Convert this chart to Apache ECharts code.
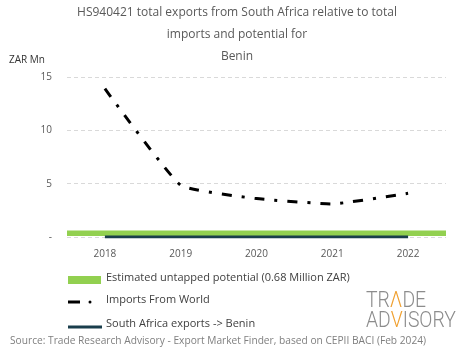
<!DOCTYPE html>
<html><head><meta charset="utf-8">
<script src="https://cdn.jsdelivr.net/npm/echarts@6/dist/echarts.min.js"></script>
<style>html,body{margin:0;padding:0;background:#fff}#c{width:465px;height:359px}</style>
</head><body><div id="c"></div>
<script>
const categories = ['2018', '2019', '2020', '2021', '2022'];
const importsFromWorld = [13.9, 4.85, 3.6, 3.1, 4.1];
const southAfricaExports = [0, 0, 0, 0, 0];
const potentialBand = [0.1, 0.6];
const yTicks = [0, 5, 10, 15];
const legendNames = ['Estimated untapped potential (0.68 Million ZAR)', 'Imports From World', 'South Africa exports -> Benin'];
const FONT = '"Open Sans"';
const GREEN = '#92d050', DARK = '#1a3e4c';
const chart = echarts.init(document.getElementById('c'));
chart.setOption({
  animation: false,
  textStyle: { fontFamily: FONT },
  title: {
    text: 'HS940421 total exports from South Africa relative to total\nimports and potential for\nBenin',
    left: 232, textAlign: 'center', top: -3,
    textStyle: { fontSize: 12, fontWeight: 'normal', color: '#595959', lineHeight: 22, fontFamily: FONT }
  },
  grid: { left: 67, right: 19, top: 77, bottom: 122 },
  xAxis: {
    type: 'category', data: categories, boundaryGap: true,
    axisLine: { show: false }, axisTick: { show: false },
    axisLabel: { color: '#595959', fontSize: 10, margin: 12 }
  },
  yAxis: {
    type: 'value', min: 0, max: 15, interval: 5,
    name: 'ZAR Mn', nameLocation: 'end', nameGap: 12,
    nameTextStyle: { color: '#333', fontSize: 10, align: 'left', padding: [0, 0, 0, -58] },
    axisLine: { show: false }, axisTick: { show: false },
    axisLabel: { color: '#595959', fontSize: 10, margin: 15,
      formatter: v => yTicks.includes(v) ? (v === 0 ? '-' : String(v)) : '' },
    splitLine: { lineStyle: { color: '#d9d9d9', type: [4, 3] } }
  },
  series: [
    {
      name: legendNames[0], type: 'line', data: [], z: 5,
      markArea: { silent: true, itemStyle: { color: GREEN, opacity: 1 },
        data: [[{ yAxis: potentialBand[0], x: 67 }, { yAxis: potentialBand[1], x: 446 }]] }
    },
    {
      name: legendNames[2], type: 'line', data: southAfricaExports,
      symbol: 'none', z: 3,
      lineStyle: { color: DARK, width: 3 }
    },
    {
      name: legendNames[1], type: 'line', data: importsFromWorld,
      symbol: 'none', smooth: 0.12, z: 4,
      lineStyle: { color: '#000', width: 3, type: [10, 10, 3, 10] }
    }
  ],
  graphic: [
    { type: 'rect', shape: { x: 68, y: 276, width: 33, height: 8 }, style: { fill: GREEN } },
    { type: 'text', left: 106, top: 272, style: { text: legendNames[0], fill: '#404040', font: '11px ' + FONT } },
    { type: 'line', shape: { x1: 68, y1: 302, x2: 80, y2: 302 }, style: { stroke: '#000', lineWidth: 3 } },
    { type: 'circle', shape: { cx: 90, cy: 302, r: 1.5 }, style: { fill: '#000' } },
    { type: 'text', left: 106, top: 294, style: { text: legendNames[1], fill: '#404040', font: '11px ' + FONT } },
    { type: 'line', shape: { x1: 68, y1: 327, x2: 102, y2: 327 }, style: { stroke: DARK, lineWidth: 3 } },
    { type: 'text', left: 106, top: 318, style: { text: legendNames[2], fill: '#404040', font: '11px ' + FONT } },
    { type: 'text', left: 10, top: 336, style: { text: 'Source: Trade Research Advisory - Export Market Finder, based on CEPII BACI (Feb 2024)', fill: '#7f7f7f', font: '10.2px ' + FONT } },
    { type: 'text', x: 366, y: 291, scaleX: 0.88, style: {
        text: '{g|TR}{o|Λ}{g|DE}\n{g|AD}{o|V}{g|ISORY}',
        rich: { g: { fill: '#8c8c8c', font: '300 22px Roboto', lineHeight: 20 }, o: { fill: '#f0a030', font: '300 22px Roboto', lineHeight: 20 } } } }
  ]
});
</script></body></html>
